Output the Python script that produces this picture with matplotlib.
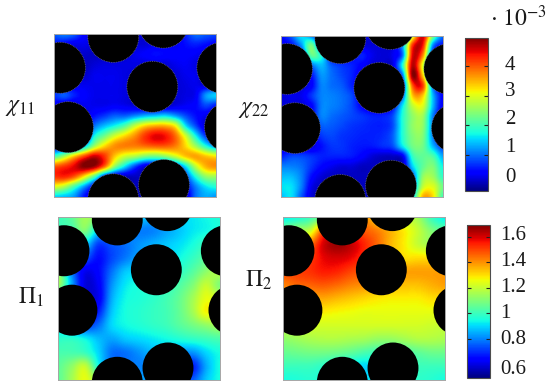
#!/usr/bin/env python3
"""Cell problem fields around a periodic array of circular obstacles."""

import matplotlib

matplotlib.use("Agg")

import matplotlib.pyplot as plt
import numpy as np
from matplotlib.cm import ScalarMappable
from matplotlib.colors import Normalize
from matplotlib.patches import Circle

W, H = 550, 388

plt.rcParams["font.family"] = ["Liberation Serif", "DejaVu Serif"]
plt.rcParams["mathtext.fontset"] = "stix"

# obstacle centres in unit-cell coordinates, y pointing down
CIRCLE_X = [0.366, 0.675, 0.607, 0.037, 0.086, 1.039, 1.086, 0.366, 0.679]
CIRCLE_Y = [0.016, -0.072, 0.323, 0.206, 0.572, 0.206, 0.572, 1.016, 0.928]
CIRCLE_R = 0.157

# values in units of 1e-3
CHI11 = [
    [0.9, 1.1, 0.9, 0.4, 0.2, 0.2, 0.2, 0.2, 0.2, 0.2, 0.2, 0.2, 0.3, 0.6, 1.0, 0.9, 0.8],
    [0.5, 0.4, 0.3, 0.3, 0.2, 0.2, 0.2, 0.2, 0.2, 0.2, 0.3, 0.3, 0.3, 0.5, 0.6, 0.5, 0.4],
    [0.2, 0.2, 0.2, 0.15, 0.1, 0.1, 0.15, 0.2, 0.3, 0.4, 0.5, 0.45, 0.4, 0.4, 0.35, 0.2, 0.2],
    [0.2, 0.2, 0.2, 0.1, 0.2, 0.25, 0.25, 0.25, 0.25, 0.2, 0.2, 0.2, 0.3, 0.35, 0.25, 0.2, 0.2],
    [0.2, 0.2, 0.2, 0.15, 0.3, 0.3, 0.3, 0.25, 0.2, 0.2, 0.2, 0.2, 0.2, 0.3, 0.3, 0.2, 0.2],
    [0.2, 0.2, 0.3, 0.3, 0.3, 0.3, 0.3, 0.25, 0.2, 0.2, 0.2, 0.2, 0.2, 0.25, 0.3, 0.2, 0.3],
    [0.7, 0.9, 0.6, 0.4, 0.3, 0.3, 0.3, 0.25, 0.2, 0.2, 0.2, 0.2, 0.2, 0.25, 0.35, 1.2, 1.5],
    [0.3, 0.2, 0.2, 0.3, 0.3, 0.3, 0.35, 0.3, 0.2, 0.1, 0.1, 0.1, 0.25, 0.35, 0.45, 0.8, 0.6],
    [0.2, 0.2, 0.2, 0.2, 0.5, 0.7, 0.9, 0.9, 1.1, 1.3, 1.4, 1.5, 1.2, 0.8, 0.5, 0.3, 0.2],
    [0.2, 0.2, 0.2, 0.2, 1.0, 1.4, 1.7, 2.1, 2.8, 3.3, 3.5, 3.5, 3.1, 1.6, 0.8, 0.2, 0.2],
    [0.2, 0.2, 0.2, 0.3, 1.7, 2.3, 2.9, 3.3, 3.7, 4.2, 4.5, 4.4, 3.9, 2.9, 1.7, 0.7, 0.2],
    [0.3, 0.3, 0.5, 1.4, 2.6, 3.3, 3.7, 3.8, 3.8, 3.9, 4.0, 4.0, 3.8, 3.3, 2.6, 1.8, 1.2],
    [2.0, 2.6, 3.4, 4.1, 4.6, 4.2, 3.4, 2.9, 2.7, 2.4, 2.3, 2.5, 2.9, 3.4, 3.6, 3.4, 3.2],
    [4.0, 4.2, 4.5, 4.95, 4.8, 3.9, 2.5, 1.6, 0.8, 0.2, 0.2, 0.2, 0.7, 1.6, 2.8, 3.5, 3.7],
    [4.2, 4.3, 4.0, 3.2, 2.1, 0.7, 0.2, 0.1, 0.1, 0.1, 0.1, 0.1, 0.1, 0.8, 1.8, 2.5, 2.6],
    [3.0, 2.7, 2.0, 1.2, 0.4, 0.1, 0.1, 0.1, 0.1, 0.1, 0.1, 0.1, 0.1, 0.4, 1.1, 1.6, 1.8],
    [1.5, 1.4, 1.2, 0.5, 0.1, 0.1, 0.1, 0.1, 0.1, 0.1, 0.1, 0.1, 0.1, 0.1, 1.0, 1.3, 1.2],
]
CHI22 = [
    [0.5, 0.9, 1.6, 1.0, 0.3, 0.2, 0.2, 0.2, 0.2, 0.2, 0.2, 0.2, 0.4, 2.8, 4.6, 2.5, 1.0],
    [0.3, 0.5, 1.2, 2.3, 0.6, 0.2, 0.2, 0.2, 0.2, 0.2, 0.2, 0.2, 1.2, 4.2, 4.4, 1.2, 0.5],
    [0.2, 0.2, 0.5, 2.2, 1.7, 0.4, 0.3, 0.4, 0.6, 0.3, 0.2, 0.3, 1.0, 4.5, 3.8, 0.6, 0.3],
    [0.2, 0.2, 0.2, 1.0, 1.4, 0.9, 0.7, 0.6, 0.4, 0.2, 0.2, 0.2, 1.8, 4.7, 3.0, 0.3, 0.2],
    [0.2, 0.2, 0.2, 0.5, 1.2, 1.0, 0.8, 0.6, 0.3, 0.2, 0.2, 0.2, 1.0, 4.9, 3.4, 0.5, 0.2],
    [0.2, 0.2, 0.2, 0.4, 1.1, 1.0, 0.9, 0.6, 0.3, 0.2, 0.2, 0.2, 0.5, 4.0, 4.2, 1.0, 0.2],
    [0.2, 0.3, 0.3, 0.7, 1.1, 1.1, 1.0, 0.8, 0.3, 0.2, 0.2, 0.2, 0.9, 3.4, 3.4, 1.4, 0.4],
    [0.2, 0.2, 0.2, 0.4, 1.1, 1.1, 1.0, 0.8, 0.4, 0.2, 0.2, 0.4, 1.6, 2.8, 3.0, 1.4, 0.3],
    [0.2, 0.2, 0.2, 0.4, 1.1, 1.0, 0.9, 0.8, 0.7, 0.6, 0.6, 0.8, 1.8, 2.5, 2.6, 1.1, 0.2],
    [0.2, 0.2, 0.2, 0.4, 0.9, 0.9, 0.8, 0.7, 0.65, 0.6, 0.6, 0.8, 1.8, 2.5, 2.5, 1.1, 0.2],
    [0.2, 0.2, 0.2, 0.3, 0.7, 0.8, 0.7, 0.65, 0.6, 0.6, 0.65, 0.9, 1.8, 2.4, 2.4, 1.1, 0.2],
    [0.3, 0.2, 0.2, 0.2, 0.5, 0.7, 0.7, 0.6, 0.55, 0.55, 0.65, 0.8, 1.6, 2.3, 2.3, 1.4, 0.7],
    [0.6, 0.8, 0.8, 0.7, 0.6, 0.6, 0.6, 0.55, 0.4, 0.2, 0.1, 0.1, 0.3, 1.9, 2.2, 2.1, 1.3],
    [1.1, 1.1, 1.0, 0.7, 0.45, 0.3, 0.2, 0.2, 0.1, 0.1, 0.1, 0.1, 0.1, 1.5, 2.2, 2.4, 1.7],
    [1.4, 1.4, 1.1, 0.5, 0.2, 0.1, 0.1, 0.1, 0.1, 0.1, 0.1, 0.1, 0.1, 0.9, 2.5, 2.6, 1.9],
    [1.6, 1.6, 1.1, 0.3, 0.1, 0.1, 0.1, 0.1, 0.1, 0.1, 0.1, 0.1, 0.1, 1.0, 2.8, 3.0, 2.3],
    [1.4, 1.6, 0.9, 0.2, 0.1, 0.1, 0.1, 0.1, 0.1, 0.1, 0.1, 0.1, 0.1, 1.4, 3.5, 3.3, 2.0],
]
PI1 = [
    [1.0, 1.05, 1.15, 1.1, 1.0, 0.95, 0.9, 0.85, 0.88, 0.9, 0.92, 0.94, 0.96],
    [1.0, 1.0, 1.1, 0.9, 0.85, 0.85, 0.8, 0.8, 0.84, 0.88, 0.92, 0.94, 0.96],
    [0.9, 0.85, 0.9, 0.72, 0.75, 0.78, 0.82, 0.85, 0.88, 0.91, 0.95, 1.0, 1.0],
    [0.8, 0.75, 0.75, 0.66, 0.73, 0.79, 0.84, 0.86, 0.9, 0.94, 0.99, 1.05, 1.1],
    [1.1, 0.8, 0.62, 0.65, 0.78, 0.88, 0.9, 0.92, 0.95, 0.98, 1.04, 1.12, 1.18],
    [1.15, 0.85, 0.6, 0.63, 0.82, 0.92, 0.95, 0.96, 0.98, 1.03, 1.1, 1.2, 1.1],
    [0.9, 0.7, 0.6, 0.62, 0.85, 0.94, 0.96, 0.98, 1.01, 1.06, 1.15, 1.25, 1.2],
    [0.9, 0.7, 0.6, 0.68, 0.88, 0.95, 0.97, 0.99, 1.01, 1.06, 1.15, 1.27, 1.2],
    [0.9, 0.8, 0.72, 0.78, 0.9, 0.94, 0.96, 0.98, 1.0, 1.04, 1.08, 1.12, 1.15],
    [0.98, 0.98, 0.94, 0.87, 0.84, 0.88, 0.9, 0.92, 0.94, 0.96, 0.98, 1.0, 1.02],
    [1.02, 1.02, 1.0, 0.9, 0.78, 0.78, 0.82, 0.86, 0.86, 0.82, 0.82, 0.9, 0.95],
    [1.05, 1.12, 1.2, 0.95, 0.8, 0.8, 0.8, 0.8, 0.75, 0.7, 0.68, 0.85, 0.95],
    [1.05, 1.15, 1.25, 1.1, 0.9, 0.85, 0.85, 0.8, 0.75, 0.72, 0.75, 0.88, 0.95],
]
PI2 = [
    [0.92, 0.95, 1.0, 1.1, 1.3, 1.3, 1.4, 1.3, 1.25, 1.2, 1.15, 1.0, 0.92],
    [1.1, 1.15, 1.2, 1.48, 1.62, 1.52, 1.47, 1.42, 1.35, 1.28, 1.2, 1.1, 1.05],
    [1.3, 1.3, 1.42, 1.6, 1.66, 1.62, 1.54, 1.45, 1.35, 1.28, 1.2, 1.15, 1.15],
    [1.42, 1.44, 1.5, 1.58, 1.6, 1.58, 1.52, 1.44, 1.36, 1.3, 1.3, 1.3, 1.3],
    [1.48, 1.5, 1.52, 1.55, 1.54, 1.5, 1.47, 1.43, 1.4, 1.38, 1.38, 1.38, 1.38],
    [1.42, 1.45, 1.46, 1.47, 1.45, 1.42, 1.4, 1.37, 1.35, 1.34, 1.34, 1.36, 1.38],
    [1.36, 1.36, 1.36, 1.37, 1.35, 1.33, 1.31, 1.29, 1.28, 1.28, 1.28, 1.3, 1.3],
    [1.28, 1.28, 1.28, 1.28, 1.27, 1.26, 1.25, 1.25, 1.25, 1.25, 1.25, 1.25, 1.25],
    [1.2, 1.2, 1.22, 1.22, 1.22, 1.22, 1.22, 1.22, 1.22, 1.22, 1.22, 1.21, 1.2],
    [1.12, 1.14, 1.16, 1.17, 1.17, 1.16, 1.15, 1.13, 1.13, 1.15, 1.17, 1.17, 1.16],
    [1.06, 1.07, 1.08, 1.08, 1.07, 1.05, 1.02, 1.0, 1.0, 1.02, 1.05, 1.07, 1.07],
    [1.0, 1.0, 1.0, 0.98, 0.95, 0.92, 0.9, 0.92, 0.95, 0.98, 1.0, 1.0, 1.0],
    [0.95, 0.96, 0.97, 0.96, 0.95, 0.93, 0.9, 0.95, 0.97, 0.98, 0.98, 0.97, 0.95],
]

CHI_RANGE = (-0.2, 4.955)
PI_RANGE = (0.498, 1.691)
CHI_TICKS = [1, 2, 3, 4]
PI_TICKS = [0.8, 1.0, 1.2, 1.4, 1.6]
CHI_LABELS = ["0", "1", "2", "3", "4"]
PI_LABELS = ["0.6", "0.8", "1", "1.2", "1.4", "1.6"]


def px_axes(fig, left, top, right, bottom):
    """Add axes from reference pixel edges."""
    return fig.add_axes([left / W, 1 - bottom / H, (right - left) / W, (bottom - top) / H])


def px_text(fig, x, y, s, **kw):
    fig.text(x / W, 1 - y / H, s, va="center", ha=kw.pop("ha", "left"), color="#1a1a1a", **kw)


def draw_field(fig, box, grid, vrange, edge):
    ax = px_axes(fig, *box)
    values = np.asarray(grid, dtype=float)
    half = 0.5 / (values.shape[0] - 1)
    ax.imshow(
        values,
        cmap="jet",
        vmin=vrange[0],
        vmax=vrange[1],
        interpolation="catrom",
        interpolation_stage="data",
        extent=(-half, 1 + half, 1 + half, -half),
        aspect="auto",
    )
    ax.set_xlim(0, 1)
    ax.set_ylim(1, 0)
    for cx, cy in zip(CIRCLE_X, CIRCLE_Y):
        ax.add_patch(Circle((cx, cy), CIRCLE_R, facecolor="black", edgecolor="none"))
        if edge:
            ax.add_patch(
                Circle((cx, cy), CIRCLE_R, fill=False, edgecolor="0.5", linewidth=0.5, linestyle=(0, (1, 1.5)))
            )
    ax.set_xticks([])
    ax.set_yticks([])
    for spine in ax.spines.values():
        spine.set_linewidth(0.7)
        spine.set_color("0.65")
    return ax


def draw_colorbar(fig, box, vrange, ticks):
    cax = px_axes(fig, *box)
    sm = ScalarMappable(norm=Normalize(*vrange), cmap="jet")
    cbar = fig.colorbar(sm, cax=cax)
    cbar.set_ticks(ticks)
    cbar.set_ticklabels([])
    cax.tick_params(axis="y", which="both", direction="in", left=True, right=True, length=3, width=0.8, color="#222222")
    cbar.minorticks_off()
    cbar.outline.set_linewidth(0.8)
    cbar.outline.set_edgecolor("0.3")
    return cbar


def main():
    fig = plt.figure(figsize=(W / 100, H / 100), dpi=100)

    draw_field(fig, (54, 34.3, 216, 196.7), CHI11, CHI_RANGE, True)
    draw_field(fig, (281, 35.7, 443, 197.3), CHI22, CHI_RANGE, True)
    draw_field(fig, (58, 217.3, 220, 379.7), PI1, PI_RANGE, False)
    draw_field(fig, (283, 217.3, 445, 379.7), PI2, PI_RANGE, False)

    draw_colorbar(fig, (465, 37.7, 488, 190.7), CHI_RANGE, CHI_TICKS)
    draw_colorbar(fig, (467, 225, 490, 377.7), PI_RANGE, PI_TICKS)

    px_text(fig, 5, 107, r"$\chi_{11}$", fontsize=17)
    px_text(fig, 238, 110, r"$\chi_{22}$", fontsize=17)
    px_text(fig, 18, 297, r"$\Pi_1$", fontsize=17)
    px_text(fig, 245, 280, r"$\Pi_2$", fontsize=17)
    px_text(fig, 490, 18, r"$\cdot\ 10^{-3}$", fontsize=17)

    for label, y in zip(CHI_LABELS, [178, 148, 119, 92, 66]):
        px_text(fig, 505, y, label, fontsize=15)
    for label, y in zip(PI_LABELS, [370, 340, 314, 288, 262, 236]):
        px_text(fig, 500, y, label, fontsize=15)

    fig.savefig("out.png", dpi=100)
    plt.close(fig)


if __name__ == "__main__":
    main()
